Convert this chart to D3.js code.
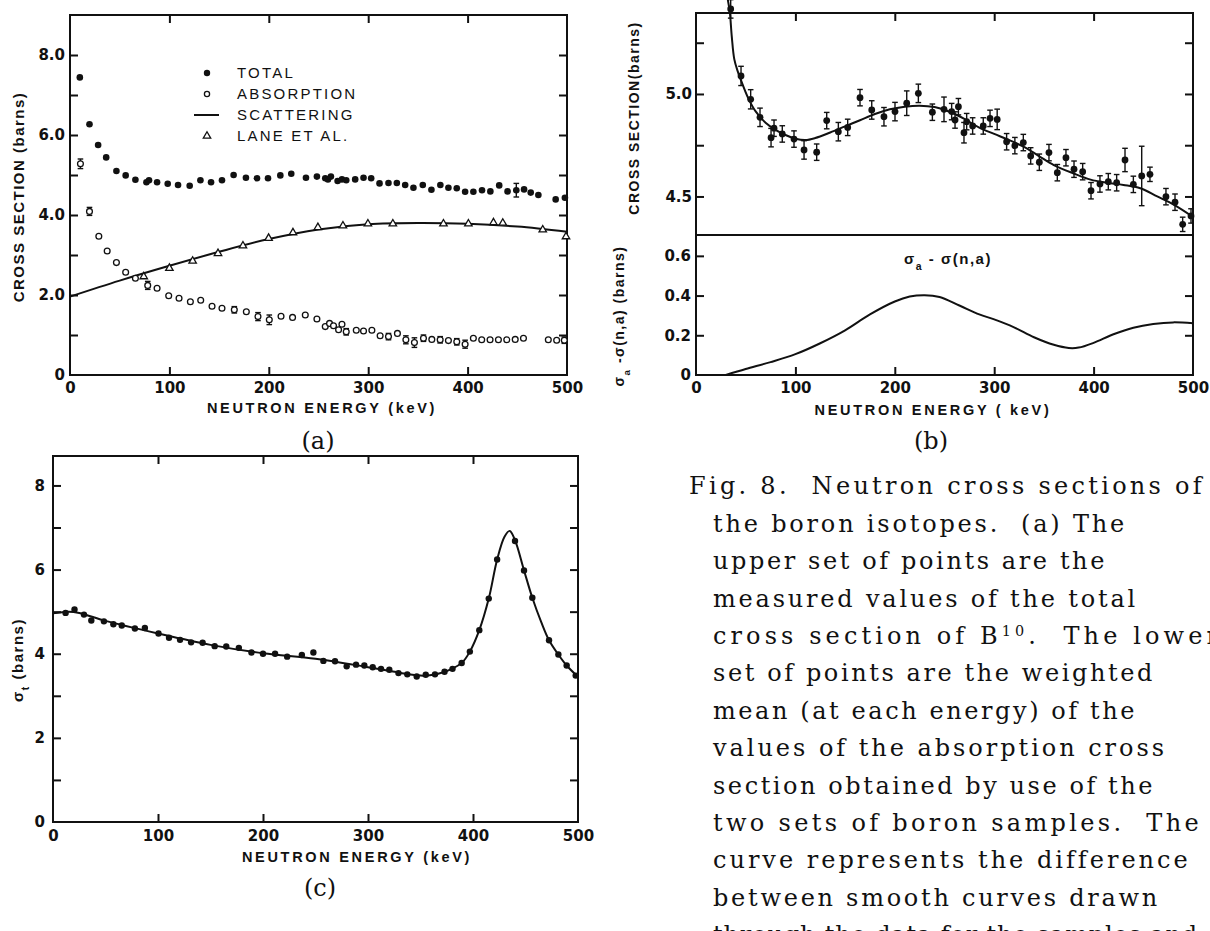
<!DOCTYPE html>
<html>
<head>
<meta charset="utf-8">
<script src="https://cdn.jsdelivr.net/npm/d3@7"></script>
<style>
  body { margin: 0; background: #fff; }
  svg { display: block; }
  .lab { font-family: "Liberation Sans", Arial, sans-serif; font-weight: bold; fill: #111; }
  .num { font-family: "DejaVu Sans", sans-serif; font-weight: bold; fill: #111; }
  .cap { font-family: "DejaVu Serif", serif; fill: #111; white-space: pre; }
</style>
</head>
<body>
<svg id="fig" width="1210" height="931"></svg>
<script>
// ---------- (a) B10 cross sections ----------
// total cross section: [keV, barns]
const totalA = [[9.9,7.44],[19.6,6.27],[28.3,5.75],[36.4,5.44],[46.7,5.10],[56,4.99],[65.8,4.88],[76.9,4.82],[79.5,4.87],[87.6,4.82],[98.3,4.78],[108.7,4.75],[120.4,4.73],[131.2,4.87],[141.9,4.82],[152.9,4.87],[164.6,5.00],[177,4.93],[188.1,4.92],[199.2,4.92],[211.6,4.99],[222.6,5.03],[237.4,4.93],[248.4,4.96],[256.8,4.92],[259.5,4.89],[262.5,4.96],[269.2,4.85],[273.6,4.89],[277.9,4.87],[286.9,4.89],[295.3,4.93],[303,4.92],[311.4,4.79],[320.4,4.80],[328.8,4.80],[337.2,4.75],[345.5,4.68],[354.9,4.75],[363.6,4.63],[372.6,4.75],[380.7,4.68],[389.1,4.67],[397.5,4.58],[405.8,4.58],[414.5,4.62],[422.9,4.59],[431.8,4.74],[440.2,4.59],[449,4.62],[456.8,4.64],[463.5,4.56],[471.2,4.50],[488.6,4.39],[497.9,4.43]];
// total points carrying an error bar: [keV, barns, half-width]
const totalErrA = [[449,4.62,0.17]];
// absorption cross section: [keV, barns, half-width of error bar (0 = none)]
const absA = [[10.5,5.28,0.12],[19.6,4.09,0.10],[29,3.47,0],[37.4,3.10,0],[46.7,2.81,0],[56,2.57,0],[65.8,2.42,0],[78.2,2.24,0.10],[87.6,2.17,0],[99.3,1.98,0],[109.7,1.92,0],[121.1,1.83,0],[131.5,1.87,0],[142.9,1.72,0],[152.9,1.67,0],[165.3,1.63,0.08],[177.4,1.58,0],[189.1,1.46,0.10],[200.5,1.38,0.12],[212.3,1.47,0],[223.9,1.44,0],[236.7,1.50,0],[248.4,1.40,0],[256.8,1.21,0],[261.1,1.29,0],[265.1,1.23,0],[270.2,1.13,0],[273.6,1.27,0],[277.9,1.08,0.08],[288,1.12,0],[295.3,1.10,0],[303.7,1.12,0],[312,0.98,0],[320.4,0.96,0.08],[329.4,1.04,0],[337.9,0.88,0.10],[346.5,0.81,0.12],[355.6,0.92,0.08],[364,0.89,0],[372.4,0.88,0.08],[380.7,0.86,0],[389.1,0.83,0.08],[397.5,0.77,0.10],[405.8,0.92,0],[414.2,0.88,0],[422.6,0.88,0],[431,0.88,0],[439.4,0.88,0],[447.9,0.89,0],[456.2,0.92,0],[481.2,0.88,0],[489.6,0.87,0],[497.3,0.87,0.08]];
// scattering cross section (smooth curve): [keV, barns]
const scatterA = [[0,1.96],[50,2.36],[100,2.73],[150,3.08],[200,3.40],[250,3.64],[300,3.77],[350,3.80],[400,3.78],[450,3.71],[500,3.58]];
// Lane et al. scattering values: [keV, barns]
const laneA = [[74.2,2.46],[100,2.67],[123.4,2.85],[148.9,3.04],[174,3.23],[199.8,3.42],[224.3,3.56],[249.4,3.69],[274.6,3.73],[299.7,3.78],[324.8,3.78],[375.7,3.78],[400.8,3.78],[426,3.81],[435.4,3.80],[475.6,3.63],[499,3.46]];
const legendA = ["TOTAL","ABSORPTION","SCATTERING","LANE ET AL."];

// ---------- (b) B11 total cross section and difference curve ----------
// [keV, barns, half-width]
const totalB = [[34.9,5.415,0.045],[45.3,5.088,0.047],[55,4.974,0.047],[64.4,4.886,0.045],[75.5,4.787,0.045],[78.5,4.833,0.04],[86.8,4.805,0.04],[98.6,4.78,0.04],[108.7,4.727,0.045],[121.4,4.716,0.04],[131.5,4.87,0.04],[143.2,4.816,0.045],[152.6,4.837,0.04],[165,4.982,0.04],[176.8,4.922,0.045],[189.1,4.889,0.045],[200.2,4.914,0.045],[212,4.955,0.06],[223.7,5.003,0.045],[237.8,4.911,0.04],[249.5,4.925,0.06],[257.2,4.914,0.04],[260.6,4.873,0.04],[264,4.938,0.04],[269.6,4.811,0.05],[272.3,4.865,0.04],[278.3,4.844,0.04],[289,4.844,0.04],[295.8,4.881,0.04],[303,4.876,0.05],[312.5,4.767,0.04],[320.8,4.748,0.04],[329.3,4.763,0.04],[336.7,4.698,0.04],[345.4,4.667,0.04],[355.1,4.714,0.04],[363.5,4.616,0.04],[372.2,4.689,0.04],[380.3,4.633,0.04],[389,4.621,0.04],[397.4,4.528,0.04],[406.4,4.561,0.04],[414.8,4.572,0.04],[423.2,4.567,0.04],[431.6,4.678,0.057],[440,4.559,0.04],[448.4,4.60,0.145],[456.7,4.608,0.035],[472.8,4.499,0.04],[481.9,4.472,0.04],[489.6,4.364,0.035],[498,4.405,0.035]];
const curveB = [[32,5.46],[34,5.40],[36,5.28],[38.5,5.17],[42,5.11],[47,5.045],[53,4.975],[60,4.915],[70,4.86],[80,4.825],[90,4.80],[100,4.782],[110,4.775],[120,4.785],[135,4.812],[150,4.842],[165,4.872],[180,4.902],[195,4.925],[210,4.938],[225,4.943],[240,4.936],[255,4.913],[270,4.878],[285,4.836],[300,4.805],[315,4.775],[330,4.742],[345,4.697],[360,4.653],[380,4.612],[397,4.582],[413,4.567],[430,4.556],[447,4.54],[464,4.50],[481,4.459],[500,4.40]];
// sigma_a - sigma(n,alpha): [keV, barns]
const diffB = [[30,0],[50,0.03],[75,0.065],[100,0.105],[125,0.16],[150,0.225],[175,0.305],[200,0.37],[215,0.395],[230,0.402],[245,0.393],[265,0.35],[285,0.305],[300,0.28],[320,0.24],[340,0.19],[360,0.152],[375,0.136],[385,0.138],[400,0.162],[420,0.205],[440,0.238],[460,0.257],[480,0.265],[500,0.26]];

// ---------- (c) total cross section ----------
const totalC = [[12,4.97],[20.5,5.05],[29.5,4.93],[36.5,4.79],[48.5,4.77],[57.5,4.70],[65.5,4.67],[78,4.60],[87.5,4.61],[100.5,4.48],[110.5,4.38],[121,4.33],[131.5,4.27],[142.5,4.26],[154,4.18],[165,4.17],[177,4.14],[189,4.03],[200,4.00],[211.5,4.00],[223,3.93],[237,3.97],[248,4.03],[257.5,3.83],[268.6,3.82],[279.7,3.70],[288.6,3.74],[296.5,3.72],[304.5,3.68],[312.4,3.64],[320.3,3.62],[329,3.54],[337.4,3.51],[346.4,3.46],[355,3.50],[363.8,3.51],[372.9,3.57],[380.5,3.64],[389.2,3.78],[397,4.05],[406,4.56],[415,5.31],[423,6.24],[440,6.68],[448.6,5.98],[456.5,5.33],[472.4,4.32],[481.3,3.98],[489.2,3.72],[497.8,3.48]];
const curveC = [[0,4.96],[15,5.0],[25,4.97],[50,4.78],[100,4.48],[150,4.21],[200,4.01],[250,3.88],[300,3.68],[330,3.55],[350,3.48],[365,3.51],[380,3.64],[390,3.80],[397,4.05],[406,4.56],[415,5.31],[423,6.24],[430,6.78],[435,6.92],[440,6.70],[448.6,5.98],[456.5,5.33],[465,4.75],[472.4,4.32],[481.3,3.98],[489.2,3.72],[500,3.45]];

// tick values
const energyTicks = [0,100,200,300,400,500];
const innerEnergy = [100,200,300,400];
const ticksA = [1,2,3,4,5,6,7,8];
const labelsA = [0,2,4,6,8];
const ticksB1 = [4.5,4.75,5.0,5.25];
const labelsB1 = [4.5,5.0];
const ticksB2 = [0.2,0.4,0.6];
const labelsB2 = [0,0.2,0.4,0.6];

// caption text, one entry per line; "^" marks a superscript run
const caption = [
  "Fig. 8.  Neutron cross sections of",
  "the boron isotopes.  (a) The",
  "upper set of points are the",
  "measured values of the total",
  "cross section of B^10^.  The lower",
  "set of points are the weighted",
  "mean (at each energy) of the",
  "values of the absorption cross",
  "section obtained by use of the",
  "two sets of boron samples.  The",
  "curve represents the difference",
  "between smooth curves drawn",
  "through the data for the samples and"
];
// right-hand end of each typed caption line
const captionEnds = [1205, 1127, 1107, 1138, 1222, 1155, 1137, 1167, 1155, 1202, 1190, 1160, 1198];

// ---------- drawing ----------
const svg = d3.select("#fig");
const INK = "#111";

const xA = d3.scaleLinear().domain([0,500]).range([70,567]);
const yA = d3.scaleLinear().domain([0,9]).range([375,15]);
const xB = d3.scaleLinear().domain([0,500]).range([696,1193]);
const yB1 = d3.scaleLinear().domain([4.312,5.395]).range([235,13]);
const yB2 = d3.scaleLinear().domain([0,0.705]).range([375,235]);
const xC = d3.scaleLinear().domain([0,500]).range([53,578]);
const yC = d3.scaleLinear().domain([0,8.7]).range([822,456]);

const axisFn = {bottom: d3.axisBottom, top: d3.axisTop, left: d3.axisLeft, right: d3.axisRight};
const smooth = d3.curveCatmullRom.alpha(0.5);

function ticks(scale, orient, pos, values, len = 8) {
  const horiz = orient === "bottom" || orient === "top";
  const g = svg.append("g")
    .attr("transform", horiz ? `translate(0,${pos})` : `translate(${pos},0)`)
    .call(axisFn[orient](scale).tickValues(values).tickSize(-len).tickFormat(""));
  g.select(".domain").remove();
  g.selectAll("line").attr("stroke", INK).attr("stroke-width", 2);
}

function labels(scale, orient, pos, values, fmt, pad, size = 15) {
  const horiz = orient === "bottom" || orient === "top";
  const g = svg.append("g")
    .attr("transform", horiz ? `translate(0,${pos})` : `translate(${pos},0)`)
    .call(axisFn[orient](scale).tickValues(values).tickSize(0).tickPadding(pad).tickFormat(fmt));
  g.select(".domain").remove();
  g.attr("font-family", null).attr("font-size", null);
  g.selectAll("text").attr("class", "num").style("font-size", size + "px");
}

function frame(x, y) {
  const [x0, x1] = x.range(), [y0, y1] = y.range();
  svg.append("rect")
    .attr("x", x0).attr("y", y1).attr("width", x1 - x0).attr("height", y0 - y1)
    .attr("fill", "none").attr("stroke", INK).attr("stroke-width", 2);
}

function errorBars(g, data, x, y) {
  const bars = g.selectAll(null).data(data.filter(d => d[2] > 0)).join("g");
  bars.append("line")
    .attr("x1", d => x(d[0])).attr("x2", d => x(d[0]))
    .attr("y1", d => y(d[1] - d[2])).attr("y2", d => y(d[1] + d[2]));
  [-1, 1].forEach(s => bars.append("line")
    .attr("x1", d => x(d[0]) - 2.8).attr("x2", d => x(d[0]) + 2.8)
    .attr("y1", d => y(d[1] + s * d[2])).attr("y2", d => y(d[1] + s * d[2])));
  bars.selectAll("line").attr("stroke", INK).attr("stroke-width", 1.4);
}

function curve(data, x, y, w = 2) {
  svg.append("path").datum(data)
    .attr("fill", "none").attr("stroke", INK).attr("stroke-width", w)
    .attr("d", d3.line().x(d => x(d[0])).y(d => y(d[1])).curve(smooth));
}

function vText(txt, x, y, size, parts) {
  const t = svg.append("text").attr("class", "lab")
    .attr("transform", `translate(${x},${y}) rotate(-90)`)
    .attr("text-anchor", "middle").attr("dy", "0.35em")
    .style("font-size", size + "px").style("letter-spacing", "1.5px").style("white-space", "pre");
  (parts || [[txt]]).forEach(p => {
    const s = t.append("tspan").text(p[0]);
    if (p[1]) s.attr("baseline-shift", "sub").style("font-size", (size * 0.7) + "px");
  });
  return t;
}

function hText(x, y, size, parts, spacing = "2.4px", anchor = "middle") {
  const t = svg.append("text").attr("class", "lab")
    .attr("x", x).attr("y", y).attr("dy", "0.35em").attr("text-anchor", anchor)
    .style("font-size", size + "px").style("letter-spacing", spacing).style("white-space", "pre");
  parts.forEach(p => {
    const s = t.append("tspan").text(p[0]);
    if (p[1]) s.attr("baseline-shift", "sub").style("font-size", (size * 0.7) + "px");
  });
  return t;
}

function panelTag(txt, x, y) {
  svg.append("text").attr("class", "cap").attr("x", x).attr("y", y).attr("dy", "0.35em")
    .attr("text-anchor", "middle").style("font-size", "24px").text(txt);
}

// ===== panel (a) =====
frame(xA, yA);
ticks(xA, "bottom", 375, innerEnergy);
ticks(xA, "top", 15, innerEnergy);
ticks(yA, "left", 70, ticksA);
ticks(yA, "right", 567, ticksA);
labels(xA, "bottom", 375, energyTicks, d3.format("d"), 7);
labels(yA, "left", 70, labelsA, d => d === 0 ? "0" : d3.format(".1f")(d), 5);
vText("CROSS SECTION (barns)", 19, 197, 15);
hText(322, 408, 14.5, [["NEUTRON ENERGY (keV)"]], "2.7px");

curve(scatterA, xA, yA, 2);
const gA = svg.append("g");
errorBars(gA, absA, xA, yA);
errorBars(gA, totalErrA, xA, yA);
gA.selectAll("circle.tot").data(totalA).join("circle").attr("class", "tot")
  .attr("cx", d => xA(d[0])).attr("cy", d => yA(d[1])).attr("r", 3.3).attr("fill", INK);
gA.selectAll("circle.abs").data(absA).join("circle").attr("class", "abs")
  .attr("cx", d => xA(d[0])).attr("cy", d => yA(d[1])).attr("r", 2.9)
  .attr("fill", "#fff").attr("stroke", INK).attr("stroke-width", 1.3);
const tri = d3.symbol().type(d3.symbolTriangle).size(24);
gA.selectAll("path.lane").data(laneA).join("path").attr("class", "lane")
  .attr("transform", d => `translate(${xA(d[0])},${yA(d[1])})`).attr("d", tri)
  .attr("fill", "#fff").attr("stroke", INK).attr("stroke-width", 1.3);

// legend
const legY = [73, 94, 115, 136];
const lg = svg.append("g");
lg.append("circle").attr("cx", 207).attr("cy", legY[0]).attr("r", 3.2).attr("fill", INK);
lg.append("circle").attr("cx", 207).attr("cy", legY[1]).attr("r", 2.6)
  .attr("fill", "#fff").attr("stroke", INK).attr("stroke-width", 1.3);
lg.append("line").attr("x1", 194).attr("x2", 219).attr("y1", legY[2]).attr("y2", legY[2])
  .attr("stroke", INK).attr("stroke-width", 2);
lg.append("path").attr("transform", `translate(207,${legY[3]})`).attr("d", tri)
  .attr("fill", "#fff").attr("stroke", INK).attr("stroke-width", 1.3);
legendA.forEach((s, i) => {
  lg.append("text").attr("class", "lab").attr("x", 237).attr("y", legY[i]).attr("dy", "0.35em")
    .style("font-size", "15px").style("font-weight", "normal").style("letter-spacing", "2.2px")
    .style("white-space", "pre").text(s);
});
panelTag("(a)", 318, 441);

// ===== panel (b) =====
// upper: total cross section
svg.append("rect").attr("x", 696).attr("y", 13).attr("width", 497).attr("height", 362)
  .attr("fill", "none").attr("stroke", INK).attr("stroke-width", 2);
svg.append("line").attr("x1", 696).attr("x2", 1193).attr("y1", 235).attr("y2", 235)
  .attr("stroke", INK).attr("stroke-width", 2);
ticks(xB, "top", 13, innerEnergy);
ticks(yB1, "left", 696, ticksB1);
ticks(yB1, "right", 1193, ticksB1);
labels(yB1, "left", 696, labelsB1, d3.format(".1f"), 4);
vText("CROSS SECTION(barns)", 634, 118, 14);

curve(curveB, xB, yB1, 2);
const gB = svg.append("g");
errorBars(gB, totalB, xB, yB1);
gB.selectAll("circle").data(totalB).join("circle")
  .attr("cx", d => xB(d[0])).attr("cy", d => yB1(d[1])).attr("r", 3.4).attr("fill", INK);

// lower: sigma_a - sigma(n,alpha)
ticks(xB, "bottom", 375, innerEnergy);
ticks(yB2, "left", 696, ticksB2);
ticks(yB2, "right", 1193, ticksB2);
labels(xB, "bottom", 375, energyTicks, d3.format("d"), 7);
labels(yB2, "left", 696, labelsB2, d => d === 0 ? "0" : d3.format(".1f")(d), 5);
curve(diffB, xB, yB2, 2);
hText(948, 259, 15, [["σ"], ["a", true], [" - σ(n,a)"]], "1.5px");
vText(null, 619, 316, 14, [["σ"], ["a", true], [" -σ(n,a) (barns)"]]);
hText(933, 410, 14.5, [["NEUTRON ENERGY ( keV)"]], "2.7px");
panelTag("(b)", 931, 441);

// ===== panel (c) =====
frame(xC, yC);
ticks(xC, "bottom", 822, innerEnergy);
ticks(xC, "top", 456, innerEnergy);
ticks(yC, "left", 53, ticksA);
ticks(yC, "right", 578, ticksA);
labels(xC, "bottom", 822, energyTicks, d3.format("d"), 8);
labels(yC, "left", 53, labelsA, d3.format("d"), 8);
vText(null, 18, 660, 15, [["σ"], ["t", true], [" (barns)"]]);
hText(357, 857, 14.5, [["NEUTRON ENERGY (keV)"]], "2.7px");
curve(curveC, xC, yC, 2);
svg.append("g").selectAll("circle").data(totalC).join("circle")
  .attr("cx", d => xC(d[0])).attr("cy", d => yC(d[1])).attr("r", 3.2).attr("fill", INK);
panelTag("(c)", 320, 888);

// ===== caption =====
// each typed line gets the letter spacing that carries it to its right-hand end
const capSize = 24;
caption.forEach((line, i) => {
  const x0 = i === 0 ? 689 : 713;
  const t = svg.append("text").attr("class", "cap")
    .attr("x", x0).attr("y", 486 + i * 37.4).attr("dy", "0.35em")
    .style("font-size", capSize + "px");
  line.split("^").forEach((seg, k) => {
    const s = t.append("tspan").text(seg);
    if (k % 2 === 1) s.attr("baseline-shift", "super").style("font-size", (capSize * 0.6) + "px");
  });
  const w = t.node().getComputedTextLength();
  const n = line.replace(/\^/g, "").length;
  t.style("letter-spacing", Math.max(0, (captionEnds[i] - x0 - w) / n) + "px");
});
</script>
</body>
</html>
